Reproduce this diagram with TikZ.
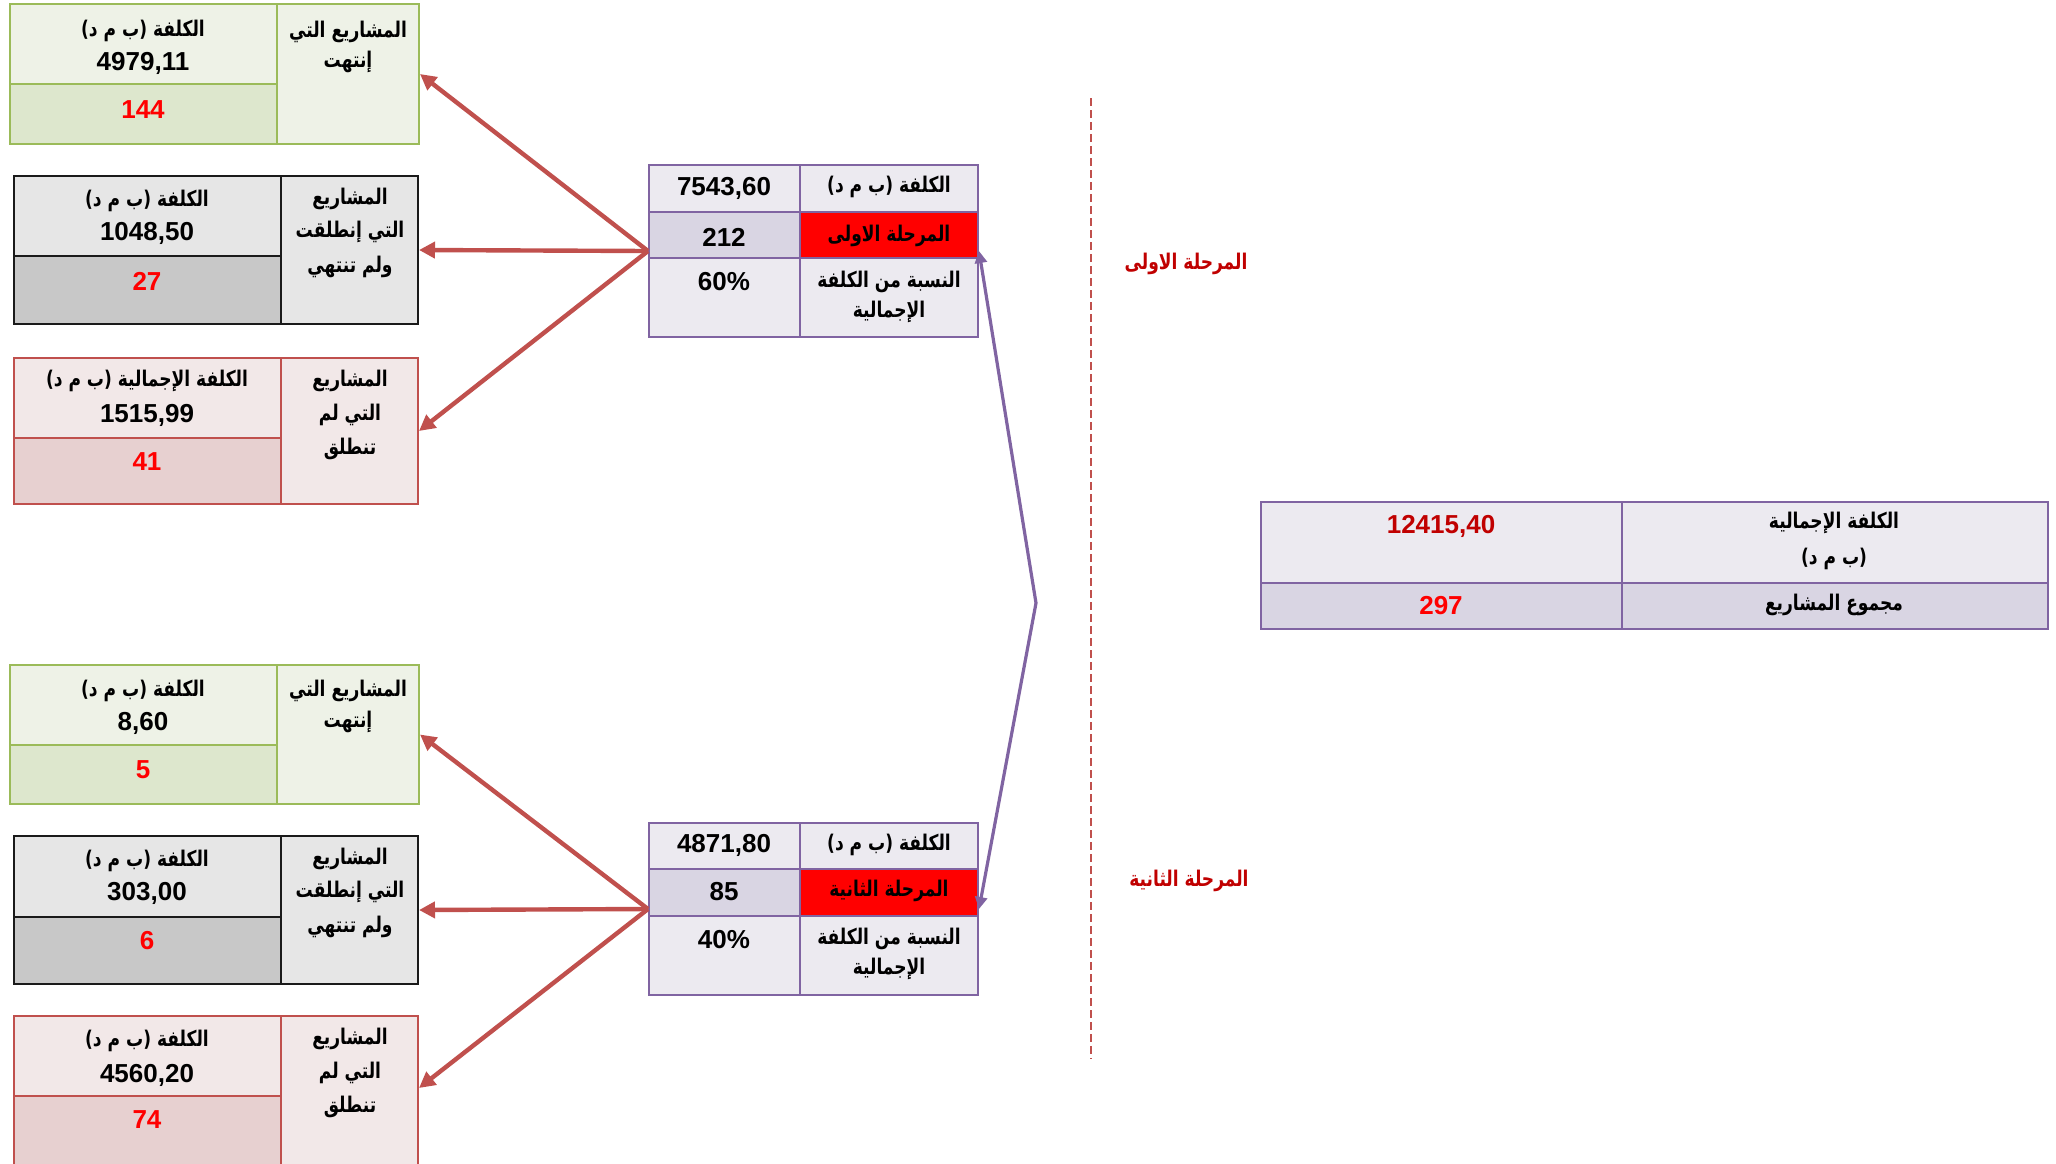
\documentclass[tikz,border=0pt]{standalone}
\usepackage{fontspec}
\usetikzlibrary{arrows.meta,fit}
\TeXXeTstate=1
\newfontfamily\arabicfont[Script=Arabic,FakeStretch=0.79]{DejaVu Sans}
\newfontfamily\numfont{Liberation Sans}
\newcommand\artxt[1]{\beginR #1\endR}
\definecolor{grB}{HTML}{9BBB59}
\definecolor{grL}{HTML}{EEF2E7}
\definecolor{grD}{HTML}{DDE7CD}
\definecolor{gyB}{HTML}{1A1A1A}
\definecolor{gyL}{HTML}{E6E6E6}
\definecolor{gyD}{HTML}{C8C8C8}
\definecolor{rdB}{HTML}{C0504D}
\definecolor{rdL}{HTML}{F2E8E8}
\definecolor{rdD}{HTML}{E7D0D0}
\definecolor{puB}{HTML}{8064A2}
\definecolor{puL}{HTML}{ECEAF0}
\definecolor{puD}{HTML}{D9D5E3}
\definecolor{darkred}{HTML}{C00000}
\begin{document}
\begin{tikzpicture}[x=0.5pt,y=-0.5pt,
  ar/.style={font=\arabicfont\bfseries\fontsize{10.8}{12}\selectfont,inner sep=0pt},
  num/.style={font=\numfont\bfseries\fontsize{13}{15}\selectfont,inner sep=0pt},
  rnum/.style={num,text=red},
  box/.style={inner sep=0pt,line width=1pt},
  redarrow/.style={draw=rdB,line width=2.2pt,-{Triangle[length=8pt,width=8pt]}},
  purarrow/.style={draw=puB,line width=1.6pt,-{Triangle[length=6pt,width=6pt]}},
  stage/.style={font=\arabicfont\bfseries\fontsize{10.8}{12}\selectfont,text=darkred,inner sep=0pt}]
\useasboundingbox (0,0) rectangle (2056,1163);
\clip (0,0) rectangle (2056,1163);
% ---------- Group 1 left boxes ----------
% box 1 green
\fill[grL] (10,4) rectangle (419,144);
\fill[grD] (10,84) rectangle (277,144);
\draw[grB,line width=1pt] (277,4) -- (277,144) (10,84) -- (277,84);
\node[box,draw=grB,fit={(10,4) (419,144)}] (b1) {};
% box 2 gray
\fill[gyL] (14,176) rectangle (418,324);
\fill[gyD] (14,256) rectangle (281,324);
\draw[gyB,line width=1pt] (281,176) -- (281,324) (14,256) -- (281,256);
\node[box,draw=gyB,fit={(14,176) (418,324)}] (b2) {};
% box 3 red
\fill[rdL] (14,358) rectangle (418,504);
\fill[rdD] (14,438) rectangle (281,504);
\draw[rdB,line width=1pt] (281,358) -- (281,504) (14,438) -- (281,438);
\node[box,draw=rdB,fit={(14,358) (418,504)}] (b3) {};
% ---------- Group 2 left boxes ----------
\fill[grL] (10,665) rectangle (419,804);
\fill[grD] (10,745) rectangle (277,804);
\draw[grB,line width=1pt] (277,665) -- (277,804) (10,745) -- (277,745);
\node[box,draw=grB,fit={(10,665) (419,804)}] (b4) {};
\fill[gyL] (14,836) rectangle (418,984);
\fill[gyD] (14,917) rectangle (281,984);
\draw[gyB,line width=1pt] (281,836) -- (281,984) (14,917) -- (281,917);
\node[box,draw=gyB,fit={(14,836) (418,984)}] (b5) {};
\fill[rdL] (14,1016) rectangle (418,1168);
\fill[rdD] (14,1096) rectangle (281,1168);
\draw[rdB,line width=1pt] (281,1016) -- (281,1168) (14,1096) -- (281,1096);
\node[box,draw=rdB,fit={(14,1016) (418,1168)}] (b6) {};
% ---------- Center boxes ----------
\fill[puL] (649,165) rectangle (978,337);
\fill[puD] (649,212) rectangle (800,258);
\fill[red] (800,212) rectangle (978,258);
\draw[puB,line width=1pt] (800,165) -- (800,337) (649,212) -- (978,212) (649,258) -- (978,258);
\node[box,draw=puB,fit={(649,165) (978,337)}] (c1) {};
\fill[puL] (649,823) rectangle (978,995);
\fill[puD] (649,869) rectangle (800,916);
\fill[red] (800,869) rectangle (978,916);
\draw[puB,line width=1pt] (800,823) -- (800,995) (649,869) -- (978,869) (649,916) -- (978,916);
\node[box,draw=puB,fit={(649,823) (978,995)}] (c2) {};
% ---------- Right table ----------
\fill[puL] (1261,502) rectangle (2048,583);
\fill[puD] (1261,583) rectangle (2048,629);
\draw[puB,line width=1pt] (1622,502) -- (1622,629) (1261,583) -- (2048,583);
\node[box,draw=puB,fit={(1261,502) (2048,629)}] (tot) {};
% ---------- Dashed divider ----------
\coordinate (dtop) at (1091,98);
\coordinate (dbot) at (1091,1059);
\draw[rdB,line width=0.7pt,dash pattern=on 4pt off 2pt] (dtop) -- (dbot);
% ---------- Texts: box 1 ----------
\node[ar] (b1a) at (143,31) {\artxt{الكلفة (ب م د)}};
\node[num] (b1b) at (143,63) {4979,11};
\node[rnum] (b1c) at (143,110) {144};
\node[ar] (b1d) at (348,32) {\artxt{المشاريع التي}};
\node[ar] (b1e) at (348,62) {\artxt{إنتهت}};
% box 2
\node[ar] (b2a) at (147,201) {\artxt{الكلفة (ب م د)}};
\node[num] (b2b) at (147,233) {1048,50};
\node[rnum] (b2c) at (147,281) {27};
\node[ar] (b2d) at (350,199) {\artxt{المشاريع}};
\node[ar] (b2e) at (350,232) {\artxt{التي إنطلقت}};
\node[ar] (b2f) at (350,267) {\artxt{ولم تنتهي}};
% box 3
\node[ar] (b3a) at (147,381) {\artxt{الكلفة الإجمالية (ب م د)}};
\node[num] (b3b) at (147,415) {1515,99};
\node[rnum] (b3c) at (147,462) {41};
\node[ar] (b3d) at (350,381) {\artxt{المشاريع}};
\node[ar] (b3e) at (350,415) {\artxt{التي لم}};
\node[ar] (b3f) at (350,449) {\artxt{تنطلق}};
% box 4
\node[ar] (b4a) at (143,691) {\artxt{الكلفة (ب م د)}};
\node[num] (b4b) at (143,723) {8,60};
\node[rnum] (b4c) at (143,770) {5};
\node[ar] (b4d) at (348,691) {\artxt{المشاريع التي}};
\node[ar] (b4e) at (348,722) {\artxt{إنتهت}};
% box 5
\node[ar] (b5a) at (147,861) {\artxt{الكلفة (ب م د)}};
\node[num] (b5b) at (147,893) {303,00};
\node[rnum] (b5c) at (147,941) {6};
\node[ar] (b5d) at (350,859) {\artxt{المشاريع}};
\node[ar] (b5e) at (350,892) {\artxt{التي إنطلقت}};
\node[ar] (b5f) at (350,927) {\artxt{ولم تنتهي}};
% box 6
\node[ar] (b6a) at (147,1041) {\artxt{الكلفة (ب م د)}};
\node[num] (b6b) at (147,1075) {4560,20};
\node[rnum] (b6c) at (147,1120) {74};
\node[ar] (b6d) at (350,1039) {\artxt{المشاريع}};
\node[ar] (b6e) at (350,1073) {\artxt{التي لم}};
\node[ar] (b6f) at (350,1107) {\artxt{تنطلق}};
% center 1
\node[num] (c1a) at (724,188) {7543,60};
\node[ar] (c1b) at (889,187) {\artxt{الكلفة (ب م د)}};
\node[num] (c1c) at (724,237) {212};
\node[ar] (c1d) at (889,236) {\artxt{المرحلة الاولى}};
\node[num] (c1e) at (724,282) {60\%};
\node[ar] (c1f) at (889,282) {\artxt{النسبة من الكلفة}};
\node[ar] (c1g) at (889,312) {\artxt{الإجمالية}};
% center 2
\node[num] (c2a) at (724,845) {4871,80};
\node[ar] (c2b) at (889,845) {\artxt{الكلفة (ب م د)}};
\node[num] (c2c) at (724,892) {85};
\node[ar] (c2d) at (889,891) {\artxt{المرحلة الثانية}};
\node[num] (c2e) at (724,940) {40\%};
\node[ar] (c2f) at (889,939) {\artxt{النسبة من الكلفة}};
\node[ar] (c2g) at (889,969) {\artxt{الإجمالية}};
% right table
\node[num,text=darkred] (ta) at (1441,526) {12415,40};
\node[ar] (tb) at (1834,523) {\artxt{الكلفة الإجمالية}};
\node[ar] (tc) at (1834,559) {\artxt{(ب م د)}};
\node[rnum] (td) at (1441,606) {297};
\node[ar] (te) at (1834,605) {\artxt{مجموع المشاريع}};
% stage labels
\node[stage] (s1) at (1186,264) {\artxt{المرحلة الاولى}};
\node[stage] (s2) at (1189,881) {\artxt{المرحلة الثانية}};
% ---------- Arrows ----------
\draw[redarrow] (c1.west) -- (b1.east);
\draw[redarrow] (c1.west) -- (b2.east);
\draw[redarrow] (c1.west) -- (b3.east);
\draw[redarrow] (c2.west) -- (b4.east);
\draw[redarrow] (c2.west) -- (b5.east);
\draw[redarrow] (c2.west) -- (b6.east |- 0,1088);
\coordinate (j) at (1036,603);
\draw[purarrow] (j) -- (c1.east);
\draw[purarrow] (j) -- (c2.east);
\end{tikzpicture}
\end{document}
